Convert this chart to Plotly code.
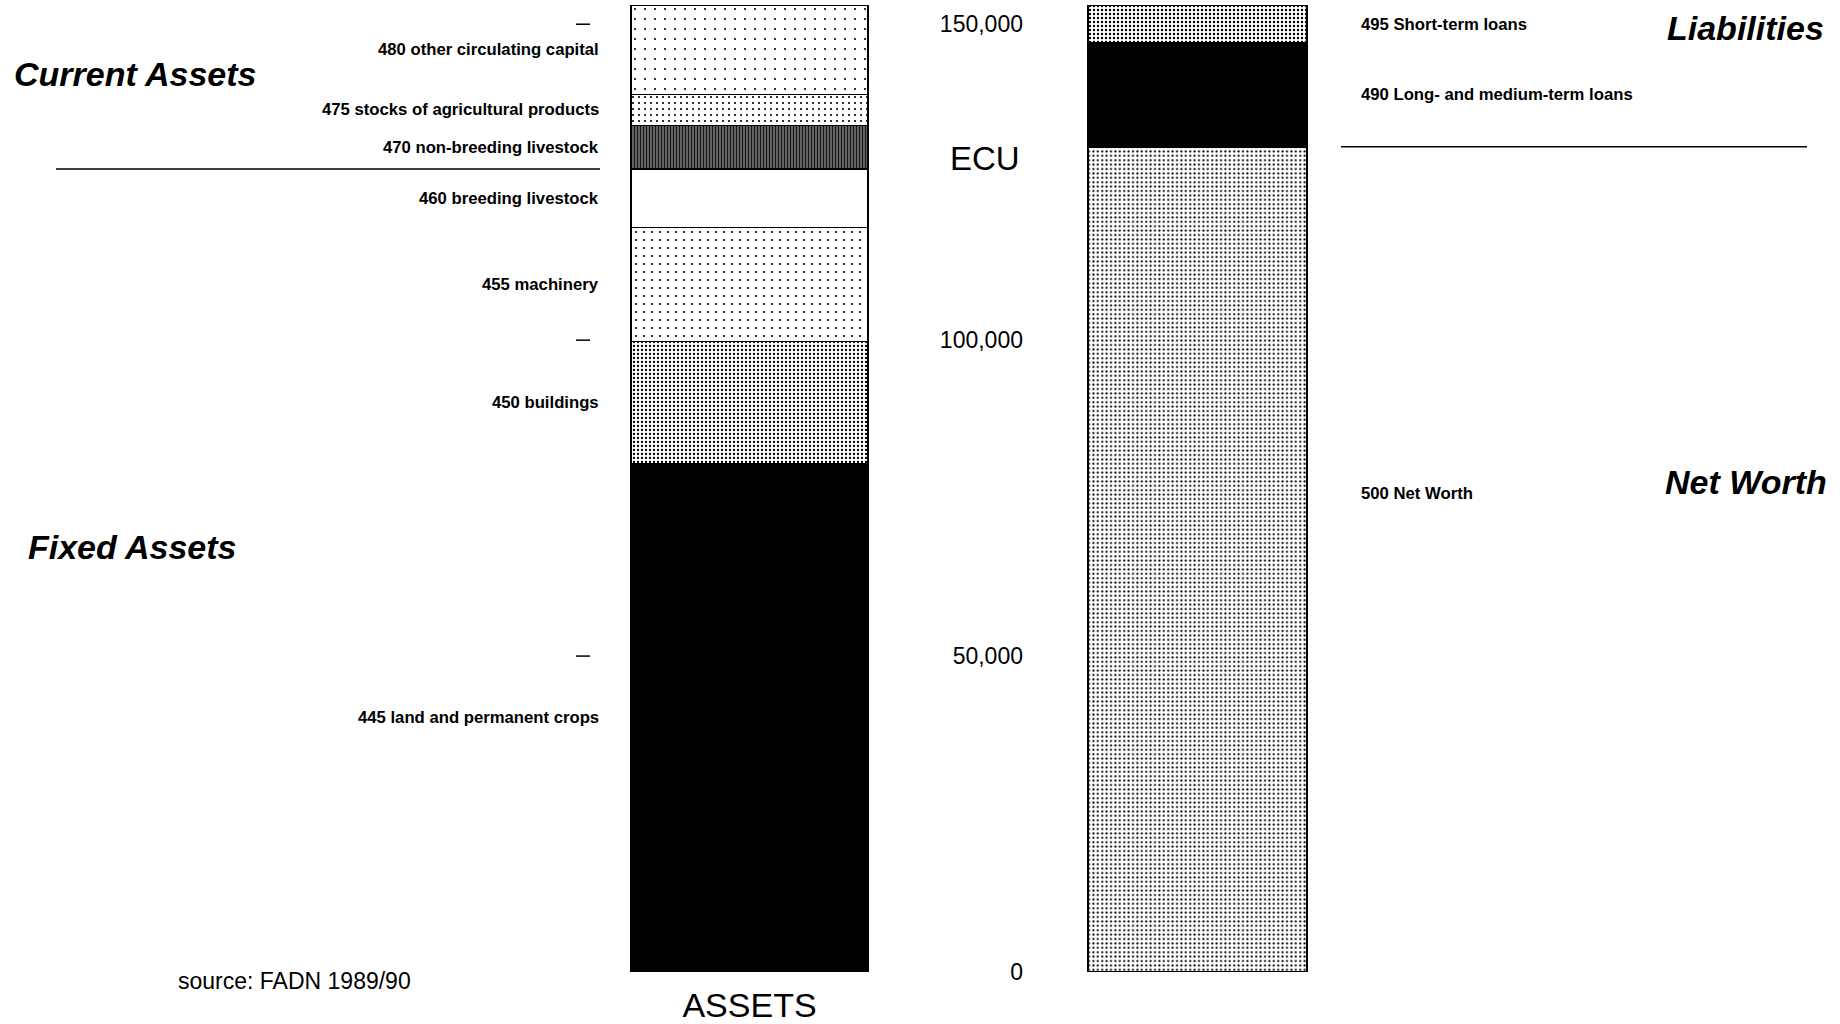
import numpy as np
import plotly.graph_objects as go

# ---------------- data ----------------
asset_labels = [
    "445 land and permanent crops",
    "450 buildings",
    "455 machinery",
    "460 breeding livestock",
    "470 non-breeding livestock",
    "475 stocks of agricultural products",
    "480 other circulating capital",
]
asset_values = [80400, 19400, 18000, 9300, 6900, 4900, 14100]

liab_labels = [
    "500 Net Worth",
    "490 Long- and medium-term loans",
    "495 Short-term loans",
]
liab_values = [130600, 16400, 6000]

categories = ["ASSETS", "LIABILITIES"]
y_ticks = [0, 50000, 100000, 150000]
dash_ticks = [50000, 100000, 150000]

# ---------------- styles ----------------
FONT = "Liberation Sans"

def style(kind, size=None, sol=None, fg="black", bg="white"):
    if kind == "solid":
        return dict(color=fg)
    if kind == "none":
        return dict(color="white")
    return dict(color=bg, pattern=dict(shape=kind, size=size, solidity=sol,
                                       fgcolor=fg, bgcolor=bg, fillmode="replace"))

asset_styles = [
    style("solid"),                       # 445 land
    style(".", 4, 0.26),                  # 450 buildings
    style(".", 8, 0.06),                  # 455 machinery
    style("none"),                        # 460 breeding
    style("|", 3, 0.45, fg="#1a1a1a", bg="#6e6e6e"),  # 470 non-breeding
    style(".", 6, 0.10),                  # 475 stocks
    style(".", 10, 0.035),                # 480 other
]
liab_styles = [
    style(".", 4.4, 0.18),                # 500 net worth
    style("solid"),                       # 490 long-term
    style(".", 4, 0.28),                  # 495 short-term
]

fig = go.Figure()
for lab, val, st in zip(asset_labels, asset_values, asset_styles):
    fig.add_trace(go.Bar(x=[categories[0]], y=[val], name=lab, width=0.529,
                         marker=dict(**st, line=dict(color="black", width=1.5)),
                         showlegend=False, hoverinfo="skip"))
for lab, val, st in zip(liab_labels, liab_values, liab_styles):
    fig.add_trace(go.Bar(x=[categories[1]], y=[val], name=lab, width=0.489,
                         marker=dict(**st, line=dict(color="black", width=1.5)),
                         showlegend=False, hoverinfo="skip"))

W, H = 1840, 1024
ML, MR, MT, MB = 0, 0, 4, 52

annotations = []
lab_font = dict(family=FONT, size=16.7, color="black", weight="bold")

a_cum = np.cumsum(asset_values)
a_mid = a_cum - np.array(asset_values) / 2
for lab, ym in zip(asset_labels, a_mid):
    annotations.append(dict(x=601 / W, xref="paper", y=float(ym), yref="y",
                            text=lab, showarrow=False, xanchor="right",
                            yanchor="middle", font=lab_font))

l_cum = np.cumsum(liab_values)
l_mid = l_cum - np.array(liab_values) / 2
for i, (lab, ym) in enumerate(zip(liab_labels, l_mid)):
    yy = 75800 if i == 0 else float(ym)
    annotations.append(dict(x=1359 / W, xref="paper", y=yy, yref="y",
                            text=lab, showarrow=False, xanchor="left",
                            yanchor="middle", font=lab_font))

head_font = dict(family=FONT, size=34, color="black", weight="bold", style="italic")
annotations += [
    dict(x=12 / W, xref="paper", y=142100, yref="y", text="Current Assets",
         showarrow=False, xanchor="left", yanchor="middle", font=head_font),
    dict(x=26 / W, xref="paper", y=67300, yref="y", text="Fixed Assets",
         showarrow=False, xanchor="left", yanchor="middle", font=head_font),
    dict(x=1826 / W, xref="paper", y=149400, yref="y", text="Liabilities",
         showarrow=False, xanchor="right", yanchor="middle", font=head_font),
    dict(x=1829 / W, xref="paper", y=77500, yref="y", text="Net Worth",
         showarrow=False, xanchor="right", yanchor="middle", font=head_font),
    dict(x=1022 / W, xref="paper", y=128700, yref="y", text="ECU",
         showarrow=False, xanchor="right", yanchor="middle",
         font=dict(family=FONT, size=33, color="black")),
    dict(x=176 / W, xref="paper", y=-0.009, yref="paper", text="source: FADN 1989/90",
         showarrow=False, xanchor="left", yanchor="middle",
         font=dict(family=FONT, size=23, color="black")),
]

shapes = [
    dict(type="line", xref="paper", yref="y", x0=56 / W, x1=600 / W,
         y0=float(a_cum[3]), y1=float(a_cum[3]), line=dict(color="black", width=1.5)),
    dict(type="line", xref="paper", yref="y", x0=1341 / W, x1=1807 / W,
         y0=float(l_cum[0]), y1=float(l_cum[0]), line=dict(color="black", width=1.5)),
]
# short tick dashes on the left side
for t in dash_ticks:
    shapes.append(dict(type="line", xref="paper", yref="y", x0=576 / W, x1=590 / W,
                       y0=t, y1=t, line=dict(color="black", width=1.5)))

c0 = 749.5
step = 448.0
fig.update_layout(
    width=W, height=H,
    margin=dict(l=ML, r=MR, t=MT, b=MB),
    barmode="stack",
    plot_bgcolor="white", paper_bgcolor="white",
    font=dict(family=FONT, color="black"),
    xaxis=dict(type="category", categoryorder="array", categoryarray=categories,
               range=[-c0 / step, (W - c0) / step],
               tickvals=[categories[0]], ticktext=[categories[0]],
               tickfont=dict(family=FONT, size=34, color="black"),
               ticks="", showline=False, showgrid=False, zeroline=False,
               ticklabelstandoff=10, automargin=False),
    yaxis=dict(range=[0, 153200], anchor="free", position=1023 / W, side="left",
               tickvals=y_ticks, tickformat=",d",
               tickfont=dict(family=FONT, size=23, color="black"),
               ticks="", showline=False, showgrid=False, zeroline=False,
               automargin=False),
    annotations=annotations,
    shapes=shapes,
)

fig.write_html("out.html", config={"displayModeBar": False},
               post_script="document.body.style.margin='0';document.body.style.overflow='hidden';")
